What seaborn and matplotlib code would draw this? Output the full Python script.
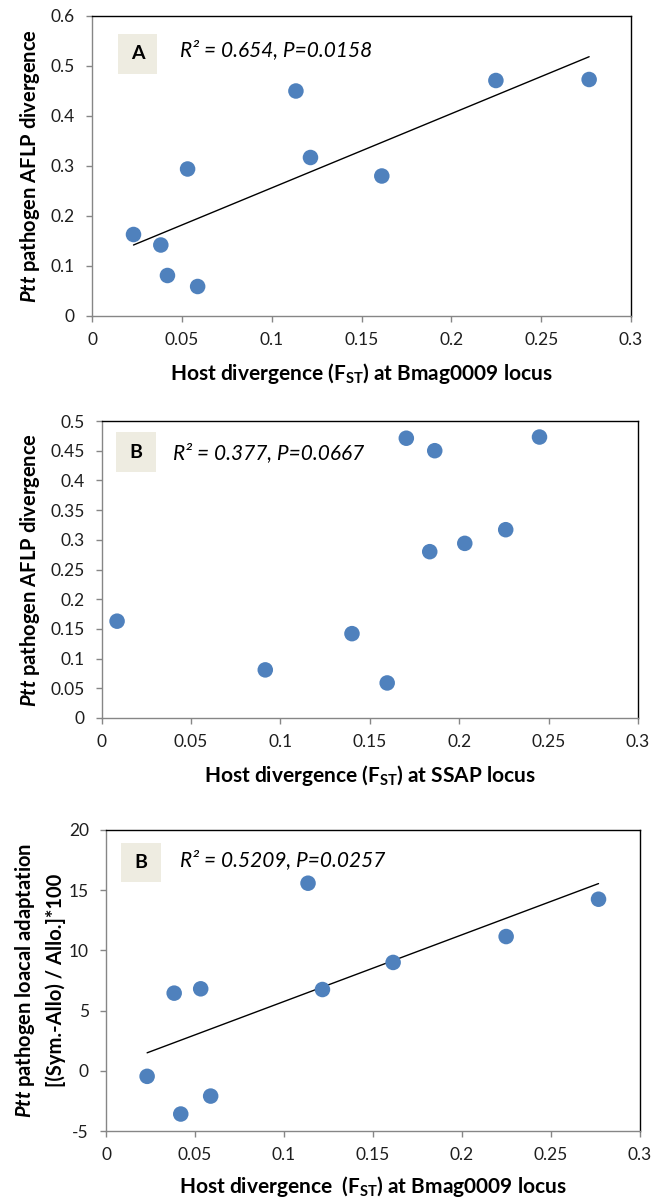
import numpy as np
import pandas as pd
import matplotlib
matplotlib.use("Agg")
import matplotlib.pyplot as plt
import seaborn as sns
from matplotlib.patches import Rectangle
from matplotlib.ticker import FuncFormatter, MultipleLocator

# ---- data ----
host_fst_bmag0009 = [0.0231, 0.0383, 0.0420, 0.0532, 0.0588, 0.1135, 0.1216, 0.1613, 0.2248, 0.2767]
host_fst_ssap = [0.0086, 0.1400, 0.0915, 0.2031, 0.1597, 0.1863, 0.2260, 0.1835, 0.1704, 0.2449]
ptt_aflp_divergence = [0.163, 0.142, 0.081, 0.294, 0.059, 0.450, 0.317, 0.280, 0.471, 0.473]
ptt_local_adaptation = [-0.46, 6.45, -3.59, 6.81, -2.10, 15.58, 6.75, 9.00, 11.15, 14.25]

panel_letters = ["A", "B", "B"]
stat_texts = ["R\u00b2 = 0.654, P=0.0158", "R\u00b2 = 0.377, P=0.0667", "R\u00b2 = 0.5209, P=0.0257"]
x_labels = [
    r"Host divergence (F$_\mathregular{ST}$) at Bmag0009 locus",
    r"Host divergence (F$_\mathregular{ST}$) at SSAP locus",
    r"Host divergence  (F$_\mathregular{ST}$) at Bmag0009 locus",
]
y_labels = [
    r"$\mathit{Ptt}$ pathogen AFLP divergence",
    r"$\mathit{Ptt}$ pathogen AFLP divergence",
    "$\\mathit{Ptt}$ pathogen loacal adaptation\n[(Sym.-Allo) / Allo.]*100",
]

sns.set_style("white")
plt.rcParams["font.family"] = ["Lato", "DejaVu Sans"]
plt.rcParams["mathtext.fontset"] = "custom"
plt.rcParams["mathtext.it"] = "Lato:italic:bold"
plt.rcParams["mathtext.rm"] = "Lato:bold"
plt.rcParams["mathtext.bf"] = "Lato:bold"

df_a = pd.DataFrame({"x": host_fst_bmag0009, "y": ptt_aflp_divergence})
df_b = pd.DataFrame({"x": host_fst_ssap, "y": ptt_aflp_divergence})
df_c = pd.DataFrame({"x": host_fst_bmag0009, "y": ptt_local_adaptation})

W, H = 654, 1201
fig = plt.figure(figsize=(W / 100, H / 100), dpi=100)

def px_rect(left, top, right, bottom):
    return [left / W, (H - bottom) / H, (right - left) / W, (bottom - top) / H]

panels = [
    dict(df=df_a, rect=px_rect(92, 16, 631, 316), ylim=(0, 0.6), ystep=0.1, fit=True,
         box=(0.048, 0.807, 0.0725, 0.133), stat=(0.163, 0.887),
         ylab_x=-0.115, ylab_ls=1.2, xlab_y=-0.19),
    dict(df=df_b, rect=px_rect(101.7, 421, 638, 718), ylim=(0, 0.5), ystep=0.05, fit=False,
         box=(0.0267, 0.828, 0.0745, 0.135), stat=(0.133, 0.892),
         ylab_x=-0.134, ylab_ls=1.2, xlab_y=-0.192),
    dict(df=df_c, rect=px_rect(106, 830, 640, 1131), ylim=(-5, 20), ystep=5, fit=True,
         box=(0.028, 0.827, 0.075, 0.130), stat=(0.139, 0.900),
         ylab_x=-0.124, ylab_ls=1.5, xlab_y=-0.183),
]

fmt = FuncFormatter(lambda v, p: "{:g}".format(round(v, 4)))

for i, pnl in enumerate(panels):
    ax = fig.add_axes(pnl["rect"])
    d = pnl["df"]
    sns.scatterplot(data=d, x="x", y="y", ax=ax, color="#4F81BD", s=125,
                    edgecolor="none", linewidth=0, zorder=3)
    if pnl["fit"]:
        sns.regplot(data=d, x="x", y="y", ax=ax, scatter=False, ci=None, truncate=True,
                    color="black", line_kws={"lw": 1.0, "zorder": 2})
    ax.set_xlim(0, 0.3)
    ax.set_ylim(*pnl["ylim"])
    ax.xaxis.set_major_locator(MultipleLocator(0.05))
    ax.yaxis.set_major_locator(MultipleLocator(pnl["ystep"]))
    ax.xaxis.set_major_formatter(fmt)
    ax.yaxis.set_major_formatter(fmt)

    for side in ["left", "bottom"]:
        ax.spines[side].set_color("#868686")
        ax.spines[side].set_linewidth(1.0)
    for side in ["top", "right"]:
        ax.spines[side].set_color("#000000")
        ax.spines[side].set_linewidth(1.0)
        ax.spines[side].set_visible(True)

    ax.tick_params(axis="both", which="major", bottom=True, left=True, top=False, right=False,
                   direction="out", length=4.3, width=1.0, color="#868686",
                   labelsize=12.5, labelcolor="#1e1e1e")
    ax.tick_params(axis="x", pad=7)
    ax.tick_params(axis="y", pad=8)
    ax.grid(False)

    ax.set_xlabel(x_labels[i], fontsize=15, fontweight="bold", color="black", va="center")
    ax.xaxis.set_label_coords(0.5, pnl["xlab_y"])
    ax.set_ylabel(y_labels[i], fontsize=14.5, fontweight="bold", color="black", va="center",
                  linespacing=pnl["ylab_ls"], ha="center", multialignment="center")
    ax.yaxis.set_label_coords(pnl["ylab_x"], 0.5)

    bx, by, bw, bh = pnl["box"]
    ax.add_patch(Rectangle((bx, by), bw, bh, transform=ax.transAxes, facecolor="#EEECE1",
                           edgecolor="none", zorder=1, clip_on=False))
    ax.text(bx + bw / 2, by + bh / 2, panel_letters[i], transform=ax.transAxes, ha="center",
            va="center", fontsize=14, fontweight="bold", color="black", zorder=4)
    sx, sy = pnl["stat"]
    ax.text(sx, sy, stat_texts[i], transform=ax.transAxes, ha="left", va="center",
            fontsize=15, fontstyle="italic", color="black", zorder=4)

fig.savefig("out.png", dpi=100)
